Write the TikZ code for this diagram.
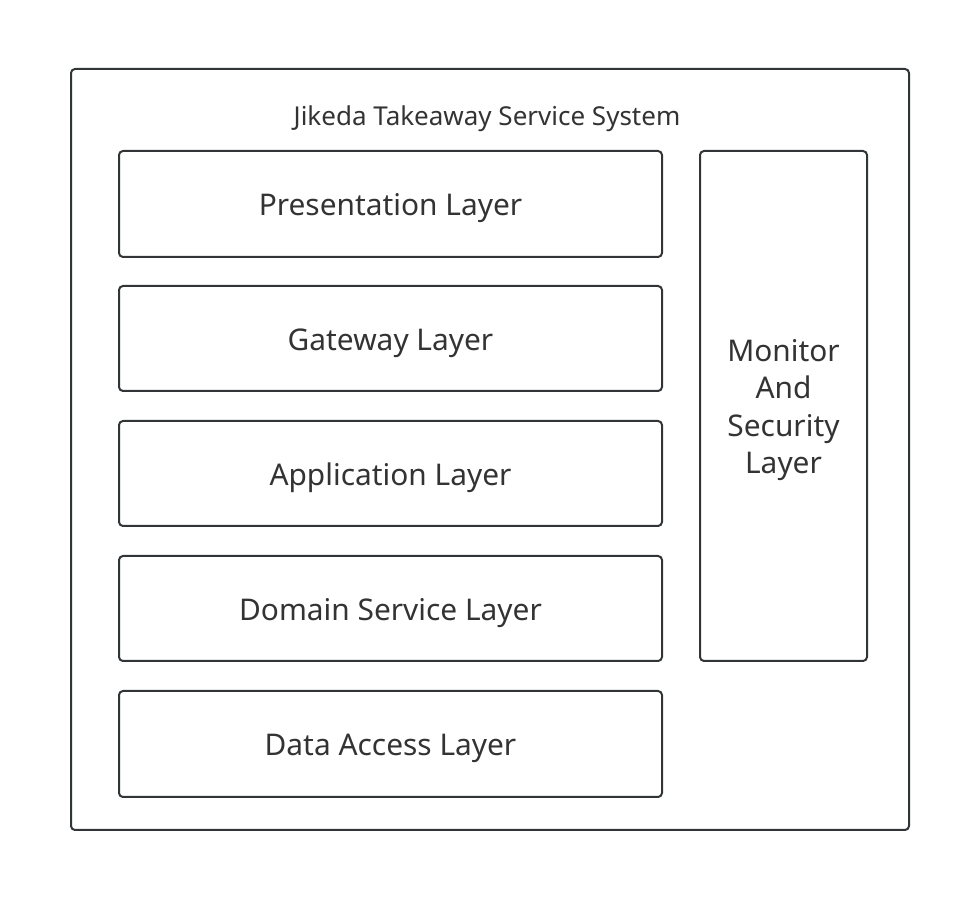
\documentclass[tikz,border=0pt]{standalone}
\usepackage{fontspec}
\setmainfont{Noto Sans}
\definecolor{ln}{HTML}{323538}
\definecolor{tx}{HTML}{333333}
\begin{document}
\begin{tikzpicture}[x=0.75pt,y=-0.75pt,
  box/.style={draw=ln,line width=1.5pt,rounded corners=3pt},
  lbl/.style={text=tx,font=\fontsize{22.4}{26}\selectfont,align=center},
  ttl/.style={text=tx,font=\fontsize{19.5}{23}\selectfont}]
\useasboundingbox (0,0) rectangle (972,912);
\draw[box] (71,69) rectangle (909,830);
\node[ttl] (title) at (487,119) {Jikeda Takeaway Service System};
\draw[box] (119,151) rectangle (662,257); \node[lbl] (p) at (390.5,208) {Presentation Layer};
\draw[box] (119,286) rectangle (662,391); \node[lbl] (g) at (390.5,343) {Gateway Layer};
\draw[box] (119,421) rectangle (662,526); \node[lbl] (a) at (390.5,478) {Application Layer};
\draw[box] (119,556) rectangle (662,661); \node[lbl] (d) at (390.5,613) {Domain Service Layer};
\draw[box] (119,691) rectangle (662,797); \node[lbl] (da) at (390.5,748) {Data Access Layer};
\draw[box] (700,151) rectangle (867,661);
\node[lbl,font=\fontsize{22.4}{28.2}\selectfont] (m) at (783.5,410) {Monitor\\And\\Security\\Layer};
\end{tikzpicture}
\end{document}
